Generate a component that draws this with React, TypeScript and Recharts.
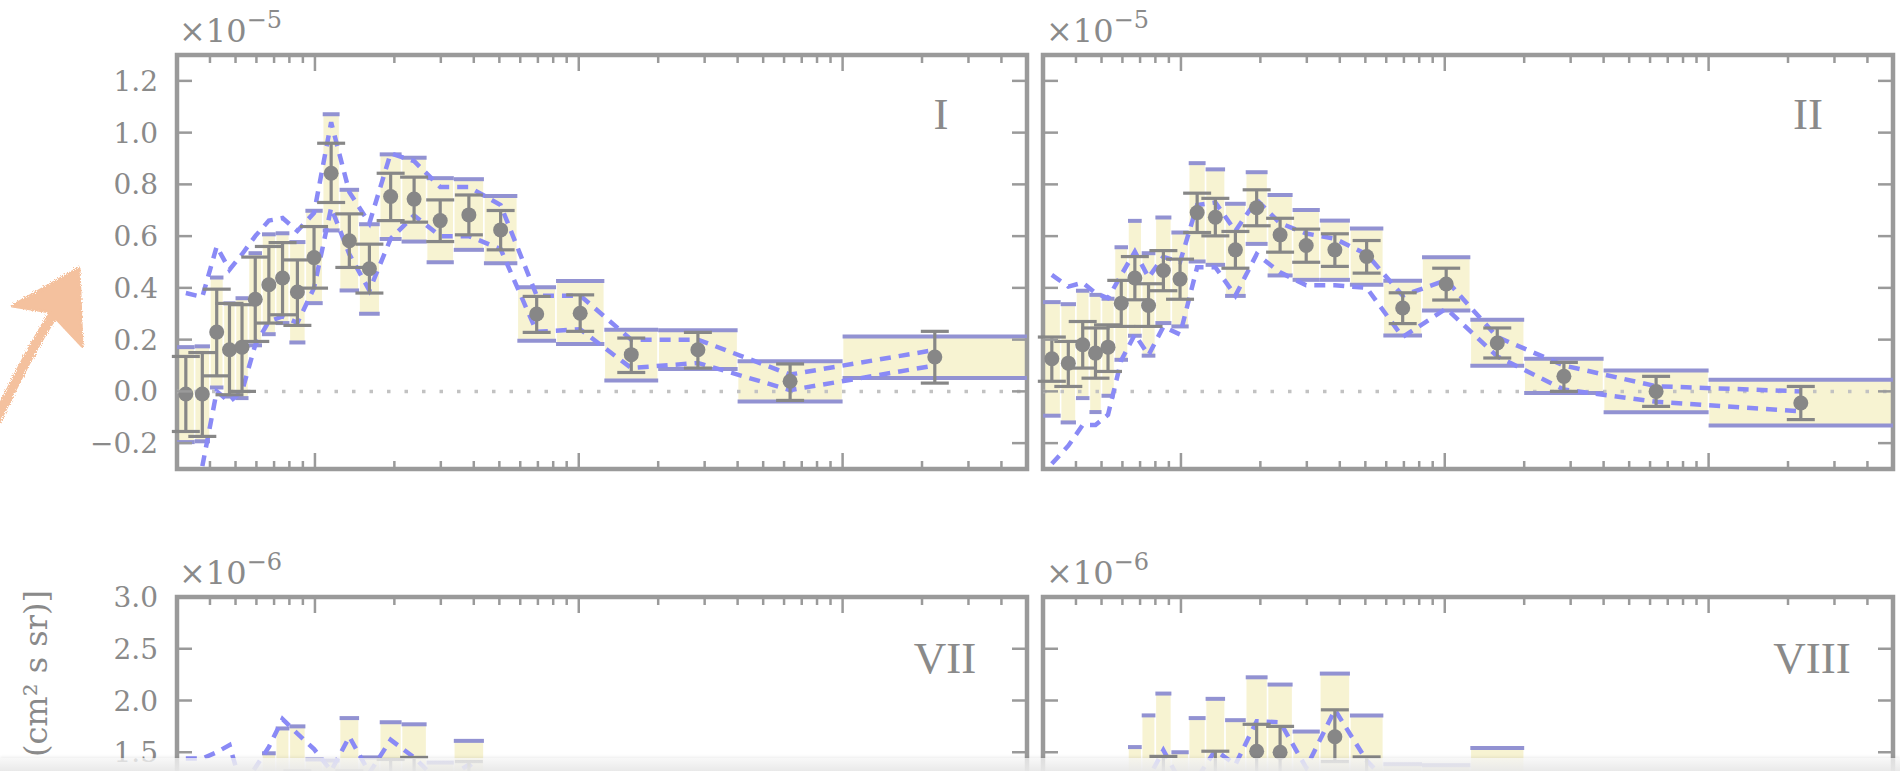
import React from "react";
import {
  ComposedChart,
  ErrorBar,
  Line,
  ReferenceArea,
  ReferenceLine,
  Scatter,
  XAxis,
  YAxis,
} from "recharts";

// energy bin edges in GeV (same binning in every panel)
const binEdges = [
  0.3, 0.35, 0.4, 0.45, 0.5, 0.56, 0.63, 0.71, 0.8, 0.92, 1.07, 1.24, 1.47, 1.76, 2.13, 2.65, 3.36,
  4.37, 5.85, 8.2, 12.5, 20, 40, 100, 500,
];

const xTicks = [
  0.4, 0.5, 0.6, 0.7, 0.8, 0.9, 1, 2, 3, 4, 5, 6, 7, 8, 9, 10, 20, 30, 40, 50, 60, 70, 80, 90, 100, 200,
  300, 400,
];
const xMajor = [1, 10, 100];

const yTicksTop = [-0.2, 0, 0.2, 0.4, 0.6, 0.8, 1.0, 1.2];
const yTicksBottom = [-0.5, 0, 0.5, 1.0, 1.5, 2.0, 2.5, 3.0];

// ---- panel I (x1e-5) ----
const fluxI = [-0.01, -0.01, 0.229, 0.161, 0.171, 0.356, 0.412, 0.438, 0.384, 0.517, 0.843, 0.582, 0.474, 0.753, 0.743, 0.66, 0.682, 0.624, 0.299, 0.302, 0.142, 0.161, 0.039, 0.133];
const statLoI = [-0.155, -0.174, 0.06, -0.013, 0.0, 0.193, 0.264, 0.296, 0.255, 0.399, 0.73, 0.479, 0.38, 0.66, 0.654, 0.579, 0.605, 0.547, 0.228, 0.232, 0.073, 0.09, -0.035, 0.032];
const statHiI = [0.135, 0.15, 0.395, 0.34, 0.335, 0.519, 0.56, 0.575, 0.508, 0.637, 0.959, 0.686, 0.569, 0.843, 0.828, 0.74, 0.759, 0.699, 0.367, 0.373, 0.206, 0.228, 0.106, 0.232];
const sysLoI = [-0.196, -0.193, 0.015, -0.02, -0.026, 0.178, 0.221, 0.264, 0.189, 0.341, 0.622, 0.39, 0.3, 0.589, 0.579, 0.499, 0.547, 0.495, 0.196, 0.183, 0.042, 0.086, -0.039, 0.052];
const sysHiI = [0.171, 0.174, 0.44, 0.34, 0.36, 0.534, 0.607, 0.611, 0.577, 0.698, 1.071, 0.779, 0.646, 0.916, 0.903, 0.824, 0.82, 0.755, 0.402, 0.427, 0.238, 0.236, 0.116, 0.212];
const modelAI = [0.38, 0.365, 0.56, 0.47, 0.53, 0.6, 0.66, 0.67, 0.62, 0.69, 1.04, 0.77, 0.65, 0.92, 0.89, 0.79, 0.79, 0.72, 0.37, 0.37, 0.2, 0.2, 0.065, 0.16];
const modelBI = [-0.5, -0.29, 0.0, -0.04, 0.0, 0.18, 0.27, 0.29, 0.265, 0.4, 0.71, 0.53, 0.39, 0.59, 0.68, 0.6, 0.6, 0.55, 0.23, 0.24, 0.09, 0.11, 0.005, 0.1];

// ---- panel II (x1e-5) ----
const fluxII = [0.126, 0.109, 0.18, 0.148, 0.171, 0.341, 0.438, 0.332, 0.467, 0.434, 0.691, 0.673, 0.547, 0.71, 0.605, 0.564, 0.547, 0.521, 0.322, 0.415, 0.187, 0.058, 0.0, -0.045];
const statLoII = [0.039, 0.019, 0.09, 0.051, 0.077, 0.251, 0.354, 0.251, 0.389, 0.356, 0.614, 0.601, 0.476, 0.64, 0.538, 0.499, 0.483, 0.457, 0.262, 0.353, 0.129, 0.0, -0.058, -0.109];
const statHiII = [0.21, 0.193, 0.27, 0.245, 0.257, 0.429, 0.521, 0.416, 0.544, 0.511, 0.766, 0.746, 0.618, 0.779, 0.669, 0.627, 0.609, 0.583, 0.381, 0.476, 0.245, 0.112, 0.058, 0.019];
const sysLoII = [-0.094, -0.12, -0.026, -0.08, -0.017, 0.122, 0.215, 0.138, 0.264, 0.251, 0.502, 0.489, 0.369, 0.57, 0.448, 0.431, 0.431, 0.412, 0.216, 0.313, 0.099, -0.006, -0.081, -0.132];
const sysHiII = [0.345, 0.337, 0.389, 0.373, 0.358, 0.557, 0.659, 0.534, 0.672, 0.614, 0.882, 0.858, 0.725, 0.847, 0.759, 0.701, 0.66, 0.629, 0.428, 0.518, 0.277, 0.126, 0.081, 0.045];
const modelAII = [0.45, 0.405, 0.42, 0.38, 0.36, 0.45, 0.54, 0.44, 0.52, 0.5, 0.72, 0.73, 0.62, 0.74, 0.65, 0.61, 0.59, 0.53, 0.37, 0.43, 0.21, 0.1, 0.02, 0.0];
const modelBII = [-0.28, -0.21, -0.13, -0.13, -0.09, 0.12, 0.22, 0.14, 0.25, 0.22, 0.48, 0.48, 0.37, 0.53, 0.46, 0.41, 0.41, 0.4, 0.21, 0.32, 0.135, 0.007, -0.04, -0.077];

// ---- panel VII (x1e-6) ----
const fluxVII = [0.55, 0.6, 0.75, 0.7, 0.8, 0.85, 0.95, 1.1, 1.15, 0.95, 0.9, 1.2, 1.0, 1.18, 1.2, 0.95, 1.15, 0.9, 0.7, 0.6, 0.4, 0.35, 0.2, 0.15];
const statLoVII = [0.3, 0.35, 0.52, 0.47, 0.58, 0.64, 0.75, 0.9, 0.98, 0.75, 0.7, 1.08, 0.8, 0.93, 0.95, 0.75, 0.89, 0.7, 0.52, 0.42, 0.24, 0.18, 0.02, -0.06];
const statHiVII = [0.8, 0.85, 0.98, 0.93, 1.02, 1.06, 1.15, 1.3, 1.32, 1.15, 1.1, 1.32, 1.2, 1.43, 1.45, 1.15, 1.41, 1.1, 0.88, 0.78, 0.56, 0.52, 0.38, 0.36];
const sysLoVII = [0.1, 0.15, 0.3, 0.25, 0.35, 0.45, 0.55, 0.6, 0.7, 0.6, 0.5, 0.75, 0.6, 0.75, 0.8, 0.6, 0.8, 0.6, 0.45, 0.4, 0.2, 0.15, 0.0, -0.05];
const sysHiVII = [1.2, 1.22, 1.25, 1.2, 1.28, 1.3, 1.49, 1.73, 1.75, 1.43, 1.42, 1.83, 1.45, 1.79, 1.77, 1.4, 1.61, 1.25, 1.0, 0.9, 0.62, 0.55, 0.4, 0.35];
const modelAVII = [1.44, 1.44, 1.5, 1.57, 1.15, 1.35, 1.55, 1.82, 1.68, 1.53, 1.32, 1.65, 1.3, 1.62, 1.45, 1.2, 1.38, 1.05, 0.85, 0.75, 0.5, 0.42, 0.28, 0.2];
const modelBVII = [0.5, 0.6, 0.7, 0.8, 0.6, 0.7, 0.85, 1.0, 0.95, 0.8, 0.75, 0.95, 0.8, 0.95, 0.95, 0.75, 0.85, 0.6, 0.45, 0.4, 0.25, 0.2, 0.1, 0.05];

// ---- panel VIII (x1e-6) ----
const fluxVIII = [0.3, 0.4, 0.5, 0.6, 0.7, 0.8, 0.9, 1.0, 1.15, 0.95, 1.0, 1.2, 1.05, 1.51, 1.5, 1.0, 1.65, 1.2, 0.8, 0.7, 0.6, 0.4, 0.25, 0.15];
const statLoVIII = [0.05, 0.15, 0.25, 0.35, 0.45, 0.55, 0.65, 0.75, 0.84, 0.7, 0.75, 0.89, 0.8, 1.25, 1.25, 0.75, 1.41, 0.95, 0.55, 0.45, 0.35, 0.18, 0.05, -0.1];
const statHiVIII = [0.55, 0.65, 0.75, 0.85, 0.95, 1.05, 1.15, 1.25, 1.46, 1.2, 1.25, 1.51, 1.3, 1.77, 1.75, 1.25, 1.91, 1.455, 1.05, 0.95, 0.85, 0.62, 0.45, 0.4];
const sysLoVIII = [-0.2, -0.1, 0.0, 0.1, 0.15, 0.2, 0.3, 0.3, 0.35, 0.45, 0.3, 0.4, 0.5, 0.8, 0.85, 0.45, 1.0, 0.6, 0.3, 0.3, 0.1, -0.1, -0.2, -0.2];
const sysHiVIII = [1.1, 1.0, 1.15, 1.2, 1.25, 1.3, 1.55, 1.856, 2.067, 1.5, 1.83, 2.016, 1.81, 2.224, 2.154, 1.7, 2.26, 1.856, 1.385, 1.375, 1.54, 1.0, 0.6, 0.5];
const modelAVIII = [0.9, 0.95, 1.0, 1.05, 1.1, 1.15, 1.2, 1.25, 1.52, 1.22, 1.25, 1.52, 1.38, 1.8, 1.79, 1.35, 1.91, 1.42, 1.05, 0.95, 0.75, 0.5, 0.3, 0.2];
const modelBVIII = [0.3, 0.35, 0.45, 0.5, 0.55, 0.6, 0.65, 0.7, 0.95, 0.7, 0.75, 0.95, 0.8, 1.2, 1.2, 0.8, 1.3, 0.9, 0.6, 0.5, 0.4, 0.25, 0.1, 0.05];

const AXIS = "#9a9a9a";
const TEXT = "#8a8a8a";
const BOX = "#f7f3d2";
const CAP = "#9292d2";
const DASH = "#8a8af6";
const POINT = "#878787";

const PAGE_H = 771;
const FRAME_W = 850;
const FRAME_H = 414;
const MT = 20;
const MR = 20;
const AX = 20; // room given to each axis so that it renders its ticks

type PanelProps = {
  frameLeft: number;
  frameTop: number;
  withLabels: boolean;
  yDomain: [number, number];
  yTicks: number[];
  flux: number[];
  statLo: number[];
  statHi: number[];
  sysLo: number[];
  sysHi: number[];
  modelA: number[];
  modelB: number[];
};

function fmt(v: number) {
  const s = Math.abs(v).toFixed(1);
  return v < -1e-9 ? `\u2212${s}` : s;
}

function Panel(p: PanelProps) {
  const ml = p.withLabels ? 110 : AX + 5;
  const top = MT;
  const bottom = MT + FRAME_H;
  const left = ml;
  const right = ml + FRAME_W;
  // tick labels that would fall below the page edge are not drawn
  const labelLimit = PAGE_H - (p.frameTop - MT) - 14;

  const bins = binEdges.slice(0, -1).map((lo, i) => ({ lo, hi: binEdges[i + 1], x: Math.sqrt(lo * binEdges[i + 1]) }));
  const points = p.flux.map((y, i) => ({ x: bins[i].x, y, err: [y - p.statLo[i], p.statHi[i] - y] }));
  const lineA = p.modelA.map((y, i) => ({ x: bins[i].x, y }));
  const lineB = p.modelB.map((y, i) => ({ x: bins[i].x, y }));

  const xTick = (t: any) => {
    const len = xMajor.includes(t.payload.value) ? 16 : 8;
    const x = t.payload.coordinate ?? t.x;
    return (
      <g>
        <line x1={x} x2={x} y1={bottom} y2={bottom - len} stroke={AXIS} strokeWidth={2.5} />
        <line x1={x} x2={x} y1={top} y2={top + len} stroke={AXIS} strokeWidth={2.5} />
      </g>
    );
  };

  const yTick = (t: any) => {
    const y = t.payload.coordinate ?? t.y;
    return (
      <g>
        <line x1={left} x2={left + 15} y1={y} y2={y} stroke={AXIS} strokeWidth={2.5} />
        <line x1={right} x2={right - 15} y1={y} y2={y} stroke={AXIS} strokeWidth={2.5} />
        {p.withLabels && y < labelLimit && (
          <text x={left - 19} y={y} dy="0.36em" textAnchor="end" fontSize={28} fontFamily="'DejaVu Serif', serif" fill={TEXT}>
            {fmt(t.payload.value)}
          </text>
        )}
      </g>
    );
  };

  return (
    <div style={{ position: "absolute", left: p.frameLeft - ml, top: p.frameTop - MT }}>
      <ComposedChart
        width={FRAME_W + ml + MR}
        height={FRAME_H + MT + AX}
        margin={{ top: MT, right: MR, bottom: 0, left: ml - AX }}
      >
        <XAxis
          type="number"
          dataKey="x"
          scale="log"
          domain={[0.3, 500]}
          allowDataOverflow
          ticks={xTicks}
          interval={0}
          height={AX}
          axisLine={false}
          tickLine={false}
          tick={xTick}
        />
        <YAxis
          type="number"
          dataKey="y"
          domain={p.yDomain}
          allowDataOverflow
          ticks={p.yTicks}
          interval={0}
          width={AX}
          axisLine={false}
          tickLine={false}
          tick={yTick}
        />
        {bins.map((b, i) => (
          <ReferenceArea
            key={`box${i}`}
            x1={b.lo}
            x2={b.hi}
            y1={p.sysLo[i]}
            y2={p.sysHi[i]}
            fill={BOX}
            fillOpacity={1}
            stroke="#ffffff"
            strokeWidth={1.5}
            ifOverflow="visible"
          />
        ))}
        <ReferenceLine y={0} stroke="#c2c2c2" strokeWidth={3.5} strokeDasharray="3.5 14" ifOverflow="visible" />
        {bins.map((b, i) => (
          <ReferenceLine
            key={`capHi${i}`}
            segment={[{ x: b.lo, y: p.sysHi[i] }, { x: b.hi, y: p.sysHi[i] }]}
            stroke={CAP}
            strokeWidth={4}
            ifOverflow="visible"
          />
        ))}
        {bins.map((b, i) => (
          <ReferenceLine
            key={`capLo${i}`}
            segment={[{ x: b.lo, y: p.sysLo[i] }, { x: b.hi, y: p.sysLo[i] }]}
            stroke={CAP}
            strokeWidth={4}
            ifOverflow="visible"
          />
        ))}
        <Line data={lineA} dataKey="y" type="linear" stroke={DASH} strokeWidth={4.5} strokeDasharray="11 8" dot={false} isAnimationActive={false} />
        <Line data={lineB} dataKey="y" type="linear" stroke={DASH} strokeWidth={4.5} strokeDasharray="11 8" dot={false} isAnimationActive={false} />
        <Scatter
          data={points}
          dataKey="y"
          isAnimationActive={false}
          shape={(s: any) => <circle cx={s.cx} cy={s.cy} r={7.5} fill={POINT} />}
        >
          <ErrorBar dataKey="err" direction="y" width={14} stroke={POINT} strokeWidth={3.2} />
        </Scatter>
        <ReferenceArea x1={0.3} x2={500} y1={p.yDomain[0]} y2={p.yDomain[1]} fill="none" stroke={AXIS} strokeWidth={4.5} ifOverflow="visible" />
      </ComposedChart>
    </div>
  );
}

const serif = "'DejaVu Serif', serif";
const roman = "'Liberation Serif', serif";

export default function App() {
  return (
    <div style={{ position: "absolute", left: 0, top: 0, width: 1900, height: PAGE_H, overflow: "hidden", background: "#fff" }}>
      <Panel frameLeft={177} frameTop={55} withLabels yDomain={[-0.3, 1.3]} yTicks={yTicksTop}
        flux={fluxI} statLo={statLoI} statHi={statHiI} sysLo={sysLoI} sysHi={sysHiI} modelA={modelAI} modelB={modelBI} />
      <Panel frameLeft={1043} frameTop={55} withLabels={false} yDomain={[-0.3, 1.3]} yTicks={yTicksTop}
        flux={fluxII} statLo={statLoII} statHi={statHiII} sysLo={sysLoII} sysHi={sysHiII} modelA={modelAII} modelB={modelBII} />
      <Panel frameLeft={177} frameTop={597} withLabels yDomain={[-1.0, 3.0]} yTicks={yTicksBottom}
        flux={fluxVII} statLo={statLoVII} statHi={statHiVII} sysLo={sysLoVII} sysHi={sysHiVII} modelA={modelAVII} modelB={modelBVII} />
      <Panel frameLeft={1043} frameTop={597} withLabels={false} yDomain={[-1.0, 3.0]} yTicks={yTicksBottom}
        flux={fluxVIII} statLo={statLoVIII} statHi={statHiVIII} sysLo={sysLoVIII} sysHi={sysHiVIII} modelA={modelAVIII} modelB={modelBVIII} />

      <svg width={1900} height={PAGE_H} style={{ position: "absolute", left: 0, top: 0, pointerEvents: "none" }}>
        <defs>
          <filter id="rough">
            <feTurbulence type="fractalNoise" baseFrequency="0.9" numOctaves={2} result="n" />
            <feDisplacementMap in="SourceGraphic" in2="n" scale={5} />
          </filter>
        </defs>
        <g fill={TEXT} fontFamily={serif}>
          <text x={179} y={42} fontSize={32}>×10<tspan fontSize={24} dy={-14}>−5</tspan></text>
          <text x={1046} y={42} fontSize={32}>×10<tspan fontSize={24} dy={-14}>−5</tspan></text>
          <text x={179} y={584} fontSize={32}>×10<tspan fontSize={24} dy={-14}>−6</tspan></text>
          <text x={1046} y={584} fontSize={32}>×10<tspan fontSize={24} dy={-14}>−6</tspan></text>
          {/* visible tail of the shared y-axis title */}
          <text transform="translate(47,590) rotate(-90)" textAnchor="end" fontSize={32}>
            (cm² s sr)]
          </text>
        </g>
        <g fill={TEXT} fontFamily={roman} fontSize={45} textAnchor="middle">
          <text x={941} y={129}>I</text>
          <text x={1808} y={129}>II</text>
          <text x={945} y={673}>VII</text>
          <text x={1812} y={673}>VIII</text>
        </g>
        <g filter="url(#rough)" opacity={0.85}>
          <path d="M -4 420 C 12 390, 28 352, 54 314" stroke="#f3b78e" strokeWidth={10} fill="none" strokeLinecap="round" />
          <path d="M 79 268 L 12 306 L 50 312 L 82 346 Z" fill="#f3b78e" stroke="#f3b78e" strokeWidth={3} strokeLinejoin="round" />
        </g>
      </svg>
      <div
        style={{
          position: "absolute",
          left: 0,
          top: 758,
          width: 1900,
          height: 13,
          background: "linear-gradient(to bottom, rgba(246,246,246,0.75), rgba(232,232,232,0.95))",
          boxShadow: "0 -1px 3px rgba(0,0,0,0.08)",
        }}
      />
    </div>
  );
}
